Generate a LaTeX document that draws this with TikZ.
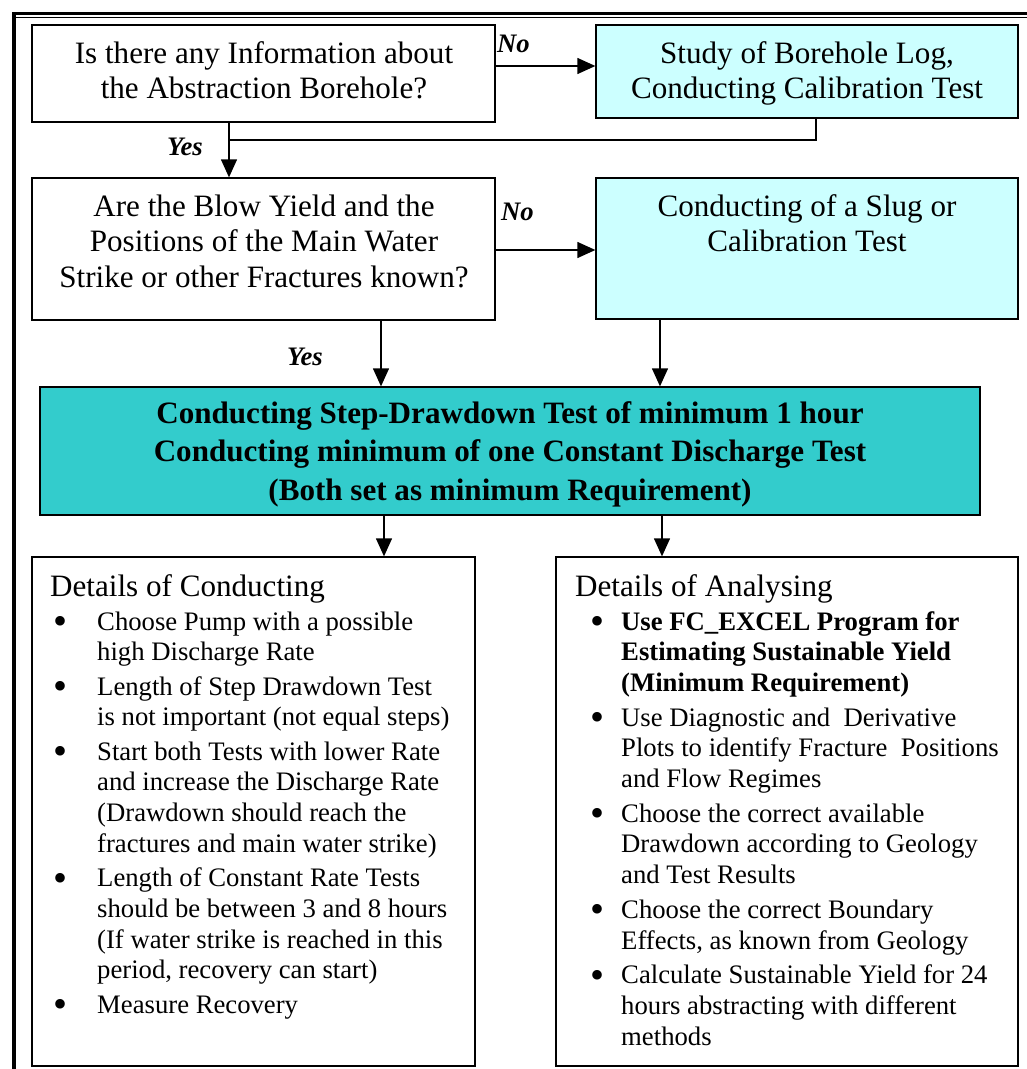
\documentclass[tikz,border=0pt]{standalone}
\usepackage{fontspec}
\setmainfont{Liberation Serif}
\usepackage{array}
\usetikzlibrary{arrows.meta}
\definecolor{palecyan}{HTML}{CCFFFF}
\definecolor{deepteal}{HTML}{33CCCC}
\newcommand{\bigtxt}{\fontsize{31.1}{35.8}\selectfont}
\newcommand{\smalltxt}{\fontsize{26.7}{30.7}\selectfont}
\newcommand{\boxlines}[1]{\begin{tabular}[t]{@{}c@{}}#1\end{tabular}}
\newcommand{\bigdot}{\raisebox{-4.5pt}{\fontsize{40}{30}\selectfont\textbullet}}

\begin{document}
\begin{tikzpicture}[x=1pt,y=-1pt,
    flowbox/.style={draw,line width=1.3pt,inner sep=0pt},
    boxtext/.style={anchor=base,inner sep=0pt,font=\bigtxt},
    answer/.style={anchor=base west,inner sep=0pt,font=\smalltxt\bfseries\itshape},
    flowarrow/.style={-{Triangle[length=18pt,width=16pt]},line width=1.3pt}]
    \useasboundingbox (0,0) rectangle (1027,1069);
    % page border
    \draw[line width=3pt] (12,13.5) -- (1030,13.5);
    \draw[line width=1.2pt] (16,17.5) -- (1030,17.5);
    \draw[line width=4pt] (14,12) -- (14,1075);

    % questions and tests
    \node[flowbox,minimum width=463pt,minimum height=97pt] (info) at (263.5,73.5) {};
    \node[boxtext] (infotxt) at (264,63) {\boxlines{Is there any Information about\\the Abstraction Borehole?}};
    \node[flowbox,fill=palecyan,minimum width=422pt,minimum height=93pt] (study) at (807,71.5) {};
    \node[boxtext] (studytxt) at (807,63) {\boxlines{Study of Borehole Log,\\Conducting Calibration Test}};
    \node[flowbox,minimum width=463pt,minimum height=142pt] (blow) at (263.5,249) {};
    \node[boxtext] (blowtxt) at (264,216) {\boxlines{Are the Blow Yield and the\\Positions of the Main Water\\Strike or other Fractures known?}};
    \node[flowbox,fill=palecyan,minimum width=422pt,minimum height=141pt] (slug) at (807,248.5) {};
    \node[boxtext] (slugtxt) at (807,216) {\boxlines{Conducting of a Slug or\\Calibration Test}};
    \node[flowbox,fill=deepteal,minimum width=940pt,minimum height=128pt] (pumptest) at (510,451) {};
    \node[boxtext,font=\fontsize{31.1}{38.5}\selectfont\bfseries] (pumptxt) at (510,423) {\boxlines{Conducting Step-Drawdown Test of minimum 1 hour\\Conducting minimum of one Constant Discharge Test\\(Both set as minimum Requirement)}};

    % answers
    \node[answer] (no1) at (497,52) {No};
    \node[answer] (yes1) at (167,155) {Yes};
    \node[answer] (no2) at (501,220) {No};
    \node[answer] (yes2) at (287,365) {Yes};

    % connectors
    \coordinate (merge) at (229,140);
    \draw[flowarrow] (info.east |- 0,66) -- (study.west |- 0,66);
    \draw[line width=1.3pt] ([xshift=9pt]study.south) |- (merge);
    \draw[flowarrow] (info.south -| merge) -- (blow.north -| merge);
    \draw[flowarrow] (blow.east |- 0,250) -- (slug.west |- 0,250);
    \draw[flowarrow] (blow.south -| 381,0) -- (pumptest.north -| 381,0);
    \draw[flowarrow] (slug.south -| 660,0) -- (pumptest.north -| 660,0);

    % details
    \node[flowbox,minimum width=443pt,minimum height=509pt] (conduct) at (253.5,811.5) {};
    \node[flowbox,minimum width=462pt,minimum height=509pt] (analyse) at (787,811.5) {};
    \draw[flowarrow] (pumptest.south -| 384,0) -- (conduct.north -| 384,0);
    \draw[flowarrow] (pumptest.south -| 662,0) -- (analyse.north -| 662,0);

    \node[anchor=base west,inner sep=0pt,font=\bigtxt] (condhead) at (50,596) {Details of Conducting};
    \node[anchor=base west,inner sep=0pt,font=\smalltxt] (condlist) at (53,630) {%
      \begin{tabular}[t]{@{}p{44pt}@{}l@{}}
        \bigdot & Choose Pump with a possible\\
         & high Discharge Rate\\[3.7pt]
        \bigdot & Length of Step Drawdown Test\\
         & is not important (not equal steps)\\[3.7pt]
        \bigdot & Start both Tests with lower Rate\\
         & and increase the Discharge Rate\\
         & (Drawdown should reach the\\
         & fractures and main water strike)\\[3.7pt]
        \bigdot & Length of Constant Rate Tests\\
         & should be between 3 and 8 hours\\
         & (If water strike is reached in this\\
         & period, recovery can start)\\[3.7pt]
        \bigdot & Measure Recovery
      \end{tabular}};

    \node[anchor=base west,inner sep=0pt,font=\smalltxt] (analhead) at (575,596) {\bigtxt Details of Analysing};
    \node[anchor=base west,inner sep=0pt,font=\smalltxt] (anallist) at (590,630) {%
      \begin{tabular}[t]{@{}p{31pt}@{}l@{}}
        \bigdot & \textbf{Use FC\_EXCEL Program for}\\
         & \textbf{Estimating Sustainable Yield}\\
         & \textbf{(Minimum Requirement)}\\[4pt]
        \bigdot & Use Diagnostic and\ \ Derivative\\
         & Plots to identify Fracture\ \ Positions\\
         & and Flow Regimes\\[4pt]
        \bigdot & Choose the correct available\\
         & Drawdown according to Geology\\
         & and Test Results\\[4pt]
        \bigdot & Choose the correct Boundary\\
         & Effects, as known from Geology\\[4pt]
        \bigdot & Calculate Sustainable Yield for 24\\
         & hours abstracting with different\\
         & methods
      \end{tabular}};
\end{tikzpicture}
\end{document}
